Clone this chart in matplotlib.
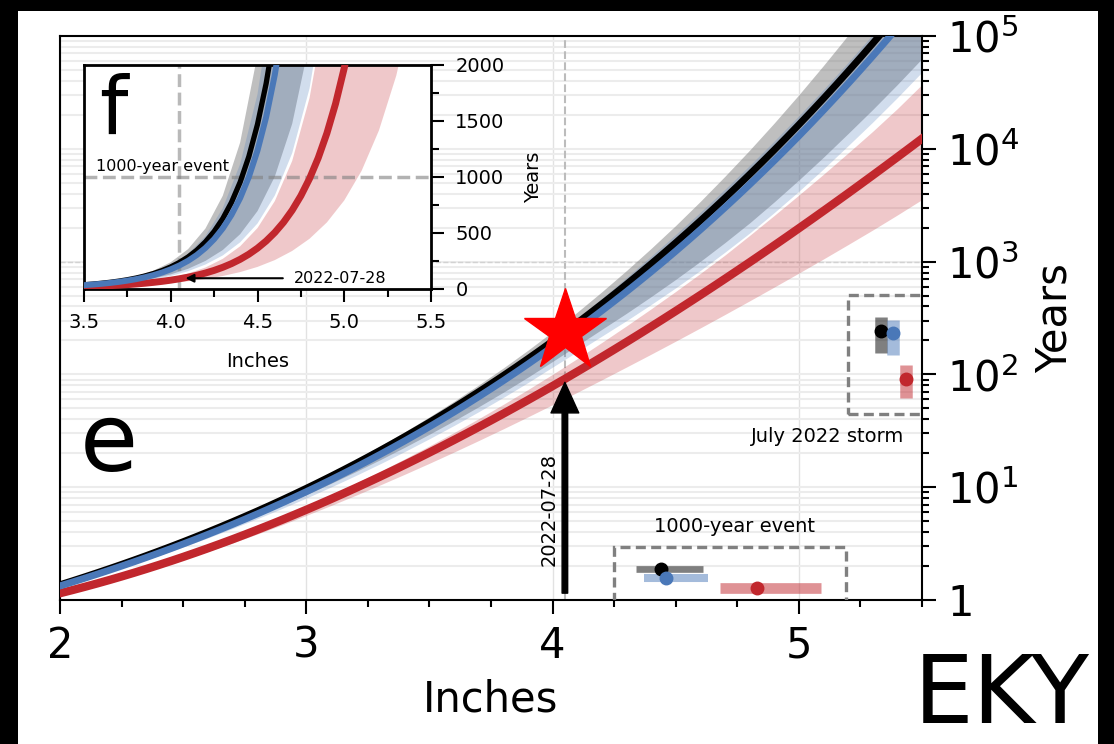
import numpy as np
import matplotlib
matplotlib.use("Agg")
import matplotlib.pyplot as plt
from matplotlib.patches import Rectangle
from matplotlib.ticker import (FixedLocator, FixedFormatter, MultipleLocator,
                               NullFormatter, LogLocator, FormatStrFormatter)

plt.rcParams['font.family'] = ['DejaVu Sans']
plt.rcParams['mathtext.fontset'] = 'dejavusans'

# ---------------------------------------------------------------------------
# Central return-period curves: depth (inches) vs log10(return period, years)
# ---------------------------------------------------------------------------
line_inches = [2.00, 2.05, 2.10, 2.15, 2.20, 2.25, 2.30, 2.35, 2.40, 2.45,
               2.50, 2.55, 2.60, 2.65, 2.70, 2.75, 2.80, 2.85, 2.90, 2.95,
               3.00, 3.05, 3.10, 3.15, 3.20, 3.25, 3.30, 3.35, 3.40, 3.45,
               3.50, 3.55, 3.60, 3.65, 3.70, 3.75, 3.80, 3.85, 3.90, 3.95,
               4.00, 4.05, 4.10, 4.15, 4.20, 4.25, 4.30, 4.35, 4.40, 4.45,
               4.50, 4.55, 4.60, 4.65, 4.70, 4.75, 4.80, 4.85, 4.90, 4.95,
               5.00, 5.05, 5.10, 5.15, 5.20, 5.25, 5.30, 5.35, 5.40, 5.45,
               5.50]

black_line = [0.1350, 0.1696, 0.2049, 0.2410, 0.2779, 0.3155, 0.3540, 0.3933, 0.4335, 0.4746,
              0.5165, 0.5594, 0.6032, 0.6479, 0.6937, 0.7405, 0.7882, 0.8370, 0.8869, 0.9379,
              0.9900, 1.0432, 1.0975, 1.1530, 1.2097, 1.2676, 1.3267, 1.3871, 1.4487, 1.5117,
              1.5759, 1.6415, 1.7084, 1.7767, 1.8464, 1.9175, 1.9900, 2.0640, 2.1395, 2.2164,
              2.2949, 2.3749, 2.4565, 2.5396, 2.6243, 2.7107, 2.7986, 2.8883, 2.9796, 3.0726,
              3.1674, 3.2639, 3.3621, 3.4622, 3.5640, 3.6676, 3.7731, 3.8805, 3.9897, 4.1009,
              4.2139, 4.3290, 4.4459, 4.5649, 4.6859, 4.8089, 4.9339, 5.0611, 5.1903, 5.3216,
              5.4550]

blue_line = [0.1250, 0.1586, 0.1929, 0.2280, 0.2639, 0.3005, 0.3380, 0.3763, 0.4155, 0.4556,
             0.4965, 0.5384, 0.5812, 0.6249, 0.6697, 0.7155, 0.7622, 0.8100, 0.8589, 0.9089,
             0.9600, 1.0122, 1.0655, 1.1200, 1.1757, 1.2326, 1.2907, 1.3501, 1.4107, 1.4727,
             1.5359, 1.6005, 1.6664, 1.7337, 1.8024, 1.8725, 1.9440, 2.0170, 2.0915, 2.1674,
             2.2449, 2.3224, 2.4015, 2.4821, 2.5643, 2.6482, 2.7336, 2.8208, 2.9096, 3.0001,
             3.0924, 3.1864, 3.2821, 3.3797, 3.4790, 3.5801, 3.6831, 3.7880, 3.8947, 4.0034,
             4.1139, 4.2270, 4.3419, 4.4589, 4.5779, 4.6989, 4.8219, 4.9471, 5.0743, 5.2036,
             5.3350]

red_line = [0.0600, 0.0877, 0.1164, 0.1461, 0.1768, 0.2085, 0.2412, 0.2750, 0.3096, 0.3453,
            0.3819, 0.4195, 0.4581, 0.4976, 0.5380, 0.5794, 0.6217, 0.6649, 0.7090, 0.7541,
            0.8000, 0.8468, 0.8945, 0.9431, 0.9926, 1.0429, 1.0941, 1.1461, 1.1990, 1.2527,
            1.3072, 1.3626, 1.4188, 1.4758, 1.5336, 1.5922, 1.6515, 1.7117, 1.7726, 1.8343,
            1.8968, 1.9600, 2.0240, 2.0887, 2.1541, 2.2202, 2.2871, 2.3547, 2.4230, 2.4920,
            2.5617, 2.6321, 2.7031, 2.7748, 2.8472, 2.9203, 2.9939, 3.0683, 3.1432, 3.2188,
            3.2951, 3.3719, 3.4493, 3.5274, 3.6060, 3.6853, 3.7651, 3.8455, 3.9264, 4.0079,
            4.0900]

# ---------------------------------------------------------------------------
# Confidence bands: log10(return period) lower / upper bounds
# ---------------------------------------------------------------------------
band_inches = [2.0, 2.1, 2.2, 2.3, 2.4, 2.5, 2.6, 2.7, 2.8, 2.9,
               3.0, 3.1, 3.2, 3.3, 3.4, 3.5, 3.6, 3.7, 3.8, 3.9,
               4.0, 4.1, 4.2, 4.3, 4.4, 4.5, 4.6, 4.7, 4.8, 4.9,
               5.0, 5.1, 5.2, 5.3, 5.4, 5.5]

black_lo = [0.125, 0.1929, 0.2629, 0.336, 0.4115, 0.4905, 0.5722, 0.6577, 0.7462, 0.8379,
            0.934, 1.0335, 1.1367, 1.2437, 1.3547, 1.4699, 1.5894, 1.7134, 1.842, 1.9755,
            2.1149, 2.2565, 2.3993, 2.5416, 2.6896, 2.8424, 3.0021, 3.169, 3.3431, 3.5297,
            3.7239, 3.9259, 4.1359, 4.3489, 4.5703, 4.80]
black_hi = [0.145, 0.2159, 0.2899, 0.367, 0.4475, 0.5325, 0.6212, 0.7137, 0.8102, 0.9119,
            1.018, 1.1285, 1.2447, 1.3657, 1.4917, 1.6239, 1.7624, 1.9064, 2.057, 2.2145,
            2.3789, 2.5515, 2.7323, 2.9206, 3.1166, 3.3204, 3.5341, 3.757, 3.9881, 4.2287,
            4.4789, 4.7389, 5.0079, 5.2869, 5.5753, 5.875]

blue_lo = [0.115, 0.1809, 0.2489, 0.32, 0.3935, 0.4705, 0.5502, 0.6337, 0.7202, 0.8099,
           0.904, 1.0015, 1.1027, 1.2077, 1.3167, 1.4299, 1.5474, 1.6694, 1.796, 1.9275,
           2.0649, 2.2015, 2.3393, 2.4766, 2.6196, 2.7674, 2.9221, 3.084, 3.2531, 3.4347,
           3.6239, 3.8219, 4.0279, 4.2369, 4.4543, 4.68]
blue_hi = [0.135, 0.2049, 0.2789, 0.355, 0.4355, 0.5185, 0.6062, 0.6967, 0.7922, 0.8909,
           0.995, 1.1035, 1.2177, 1.3367, 1.4607, 1.5899, 1.7254, 1.8664, 2.013, 2.1655,
           2.3249, 2.4965, 2.6743, 2.8586, 3.0476, 3.2404, 3.4381, 3.642, 3.8521, 4.0697,
           4.2939, 4.5259, 4.7659, 5.0139, 5.2703, 5.535]

red_lo = [0.05, 0.1044, 0.1628, 0.2242, 0.2896, 0.3579, 0.4301, 0.505, 0.5837, 0.665,
          0.75, 0.8375, 0.9276, 1.0201, 1.115, 1.2122, 1.3118, 1.4136, 1.5175, 1.6236,
          1.7318, 1.841, 1.9521, 2.0651, 2.179, 2.2947, 2.4121, 2.5312, 2.6519, 2.7742,
          2.8981, 3.0233, 3.151, 3.2801, 3.4134, 3.55]
red_hi = [0.07, 0.1274, 0.1888, 0.2552, 0.3256, 0.3999, 0.4781, 0.561, 0.6477, 0.738,
          0.833, 0.9315, 1.0346, 1.1411, 1.252, 1.3662, 1.4848, 1.6076, 1.7345, 1.8656,
          2.0008, 2.14, 2.2831, 2.4301, 2.581, 2.7357, 2.8951, 3.0582, 3.2319, 3.4092,
          3.5901, 3.7743, 3.963, 4.1551, 4.3564, 4.57]

# July 2022 storm: depth and return-period estimates (years) per series
storm_inches = 4.05
storm_label = "2022-07-28"
storm_central = [243, 231, 91]
storm_low = [155, 148, 62]
storm_high = [324, 302, 120]

# 1000-year event depth estimates (inches) per series
event_central = [4.44, 4.46, 4.83]
event_low = [4.34, 4.37, 4.68]
event_high = [4.61, 4.63, 5.09]

year_ticks = [1, 10, 100, 1000, 10000, 100000]
year_tick_labels = ['1', r'$10^1$', r'$10^2$', r'$10^3$', r'$10^4$', r'$10^5$']

BLACK = 'black'
BLUE = '#4a78b8'
RED = '#c1272d'
series_colors = [BLACK, BLUE, RED]

xl = np.array(line_inches)
xb = np.array(band_inches)


def years(v):
    return 10 ** np.asarray(v)


def draw_curves(axis, lw_black, lw_blue, lw_red):
    axis.fill_between(xb, years(black_lo), years(black_hi), color='#808080',
                      alpha=0.5, lw=0, zorder=2)
    axis.fill_between(xb, years(blue_lo), years(blue_hi), color=BLUE,
                      alpha=0.25, lw=0, zorder=2)
    axis.fill_between(xb, years(red_lo), years(red_hi), color=RED,
                      alpha=0.25, lw=0, zorder=2)
    axis.plot(xl, years(red_line), color=RED, lw=lw_red, zorder=3)
    axis.plot(xl, years(black_line), color=BLACK, lw=lw_black, zorder=3)
    axis.plot(xl, years(blue_line), color=BLUE, lw=lw_blue, zorder=3)


# ---------------------------------------------------------------------------
fig = plt.figure(figsize=(11.14, 7.44), dpi=100, facecolor='black')
fig.add_artist(Rectangle((18 / 1114, 0), 1080 / 1114, 733 / 744,
                         transform=fig.transFigure, facecolor='white',
                         edgecolor='none', zorder=-10))

# ---------------- main panel (e) ----------------
ax = fig.add_axes([60 / 1114, 144 / 744, 862 / 1114, 564 / 744])
ax.set_yscale('log')
draw_curves(ax, 5, 5, 6)

ax.axvline(storm_inches, color='#bcbcbc', lw=1.5, ls='--', zorder=1.5)
ax.axhline(1000, color='#d2d2d2', lw=1.0, ls='--', zorder=1.5)

# storm marker and arrow
ax.plot(storm_inches, storm_central[0], marker='*', ms=62, color='red',
        mec='red', zorder=8)
ax.annotate('', xy=(storm_inches, 85), xytext=(storm_inches, 1.15),
            arrowprops=dict(facecolor='black', edgecolor='black', width=4,
                            headwidth=20, headlength=22, shrink=0),
            zorder=7)
ax.text(3.985, 6.3, storm_label, rotation=90, ha='center', va='center',
        fontsize=14, zorder=7)

# 1000-year event summary box
box_ls = (0, (3, 1.6))
ax.add_patch(Rectangle((4.25, 0.9), 5.19 - 4.25, 2.97 - 0.9, fill=False,
                       edgecolor='#808080', lw=2.4, ls=box_ls, zorder=4))
ax.text(4.74, 4.5, '1000-year event', ha='center', va='center', fontsize=14)
event_rows = [1.89, 1.58, 1.285]
event_widths = [4.8, 5.8, 7.7]
for c, lo, hi, mid, yr, w in zip(series_colors, event_low, event_high,
                                 event_central, event_rows, event_widths):
    ax.plot([lo, hi], [yr, yr], color=c, alpha=0.5, lw=w,
            solid_capstyle='butt', zorder=5)
    ax.plot(mid, yr, 'o', ms=9, color=c, zorder=6)

# July 2022 storm summary box
ax.add_patch(Rectangle((5.20, 44.6), 0.4, 505 - 44.6, fill=False,
                       edgecolor='#808080', lw=2.4, ls=box_ls, zorder=4))
ax.text(5.118, 28.4, 'July 2022 storm', ha='center', va='center', fontsize=14)
storm_cols = [5.333, 5.383, 5.434]
for c, lo, hi, mid, xc in zip(series_colors, storm_low, storm_high,
                              storm_central, storm_cols):
    ax.plot([xc, xc], [lo, hi], color=c, alpha=0.5, lw=9,
            solid_capstyle='butt', zorder=5)
    ax.plot(xc, mid, 'o', ms=9, color=c, zorder=6)

ax.set_xlim(2, 5.5)
ax.set_ylim(1, 1e5)
ax.xaxis.set_major_locator(MultipleLocator(1))
ax.xaxis.set_minor_locator(MultipleLocator(0.25))
ax.yaxis.set_major_locator(FixedLocator(year_ticks))
ax.yaxis.set_major_formatter(FixedFormatter(year_tick_labels))
ax.yaxis.set_minor_locator(LogLocator(base=10, subs=np.arange(2, 10) * 1.0, numticks=30))
ax.yaxis.set_minor_formatter(NullFormatter())
ax.yaxis.tick_right()
ax.yaxis.set_label_position('right')
ax.grid(axis='y', which='both', color='#ececec', lw=1.5)
ax.grid(axis='x', which='major', color='#e2e2e2', lw=1.0)
ax.set_axisbelow(True)

ax.tick_params(axis='both', which='major', length=10, width=1.5, labelsize=30, pad=8)
ax.tick_params(axis='both', which='minor', length=5, width=1.5)
for s in ax.spines.values():
    s.set_linewidth(1.5)
ax.set_xlabel('Inches', fontsize=30, labelpad=8)
ax.set_ylabel('Years', fontsize=30, labelpad=10)
ax.text(2.08, 14, 'e', fontsize=68, ha='left', va='baseline')

# ---------------- inset panel (f) ----------------
axin = fig.add_axes([84 / 1114, (744 - 289) / 744, 347 / 1114, 224 / 744])
axin.set_facecolor('white')
draw_curves(axin, 3.8, 4.3, 5)
axin.axvline(storm_inches, color='#808080', alpha=0.55, lw=2.5, ls='--', zorder=2.5)
axin.axhline(1000, color='#808080', alpha=0.6, lw=2.5, ls='--', zorder=2.5)

axin.text(3.587, 1382, 'f', fontsize=58, ha='left', va='baseline')
axin.text(3.567, 1030, '1000-year event', fontsize=11.5, ha='left', va='bottom')
axin.annotate(storm_label, xy=(4.085, 96), xytext=(4.71, 96), va='center',
              fontsize=11.5,
              arrowprops=dict(arrowstyle='-|>', color='black', lw=1.5,
                              mutation_scale=12, shrinkA=6, shrinkB=0))

axin.set_xlim(3.5, 5.5)
axin.set_ylim(0, 2000)
axin.xaxis.set_major_locator(MultipleLocator(0.5))
axin.xaxis.set_minor_locator(MultipleLocator(0.25))
axin.xaxis.set_major_formatter(FormatStrFormatter('%.1f'))
axin.yaxis.set_major_locator(MultipleLocator(500))
axin.yaxis.set_minor_locator(MultipleLocator(250))
axin.yaxis.tick_right()
axin.yaxis.set_label_position('right')
axin.tick_params(axis='both', which='major', length=9.5, width=1.5, labelsize=14, pad=8)
axin.tick_params(axis='both', which='minor', length=5.5, width=1.5)
for s in axin.spines.values():
    s.set_linewidth(2)
axin.set_xlabel('Inches', fontsize=14, labelpad=14)
axin.set_ylabel('Years', fontsize=14, labelpad=14)

# region label
fig.text(1090 / 1114, 1 / 744, 'EKY', fontsize=68, ha='right', va='bottom')

fig.savefig('out.png', dpi=100, facecolor=fig.get_facecolor())
